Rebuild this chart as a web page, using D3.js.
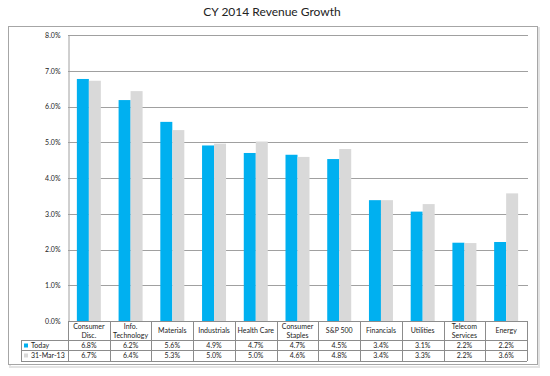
<!DOCTYPE html>
<html lang="en">
    <head>
        <meta charset="utf-8">
        <title>CY 2014 Revenue Growth</title>
        <script type="text/javascript" src="https://cdn.jsdelivr.net/npm/d3@7"></script>
        <style>
          body{margin:0;background:#fff;font-family:Lato,"Open Sans",sans-serif;}
          text{fill:#222;}
        </style>
    </head>
    <body>
      <div id="chart"></div>
        <script type="text/javascript">
          var categories = [["Consumer","Disc."],["Info.","Technology"],["Materials"],["Industrials"],["Health Care"],["Consumer","Staples"],["S&P 500"],["Financials"],["Utilities"],["Telecom","Services"],["Energy"]]
          var today = [0.0677,0.0618,0.0557,0.0491,0.0470,0.0465,0.0453,0.0338,0.0306,0.0219,0.0221]
          var march = [0.0672,0.0643,0.0534,0.0496,0.0502,0.0459,0.0481,0.0338,0.0327,0.0218,0.0357]
          var seriesNames = ["Today","31-Mar-13"]
          var colors = ["#00b0f0","#d9d9d9"]
          var yTicks = [0,0.01,0.02,0.03,0.04,0.05,0.06,0.07,0.08]

          var width = 550, height = 376
          var svg = d3.select("#chart").append("svg").attr("width",width).attr("height",height)

          svg.append("text").attr("x",272).attr("y",16).attr("text-anchor","middle")
            .attr("font-size",12).text("CY 2014 Revenue Growth")

          // outer frame with a soft shadow
          svg.append("rect").attr("x",10).attr("y",28).attr("width",529).attr("height",339)
            .attr("fill","none").attr("stroke","#e3e3e3").attr("stroke-width",2)
          svg.append("rect").attr("x",8.5).attr("y",26.5).attr("width",529).attr("height",338)
            .attr("fill","#fff").attr("stroke","#a6a6a6").attr("stroke-width",1)

          var plotLeft = 68, plotRight = 527, plotTop = 35, plotBottom = 321
          var x = d3.scaleBand().domain(d3.range(categories.length)).range([plotLeft,plotRight])
          var y = d3.scaleLinear().domain([0,0.08]).range([plotBottom,plotTop])

          // gridlines
          svg.append("g").selectAll("line").data(yTicks).enter().append("line")
            .attr("x1",plotLeft).attr("x2",plotRight+1)
            .attr("y1",function(d){return Math.round(y(d))+0.5})
            .attr("y2",function(d){return Math.round(y(d))+0.5})
            .attr("stroke","#a0a0a0")

          var yAxis = svg.append("g").attr("transform","translate("+(plotLeft+0.5)+",0)")
            .call(d3.axisLeft(y).tickValues(yTicks).tickFormat(d3.format(".1%")).tickSize(0).tickPadding(8))
          yAxis.select(".domain").attr("stroke","#a0a0a0")
          yAxis.selectAll("text").attr("font-size",7).attr("font-family","Lato,sans-serif").attr("fill","#333")

          var bw = 12
          var series = [today,march]
          series.forEach(function(vals,s){
            svg.append("g").selectAll("rect").data(vals).enter().append("rect")
              .attr("x",function(d,i){return x(i)+x.bandwidth()/2-bw+s*bw})
              .attr("y",function(d){return y(d)})
              .attr("width",bw)
              .attr("height",function(d){return plotBottom-y(d)})
              .attr("fill",colors[s])
          })

          // data table
          var rowTop = [321,340,350,361]
          var tableLeft = 21
          var grid = svg.append("g").attr("stroke","#8c8c8c").attr("stroke-width",1)
          rowTop.forEach(function(r,i){
            grid.append("line").attr("x1",i==0?plotLeft:tableLeft).attr("x2",plotRight)
              .attr("y1",r+0.5).attr("y2",r+0.5)
          })
          d3.range(categories.length+1).forEach(function(i){
            var xx = i<categories.length ? x(i) : plotRight
            grid.append("line").attr("x1",Math.round(xx)+0.5).attr("x2",Math.round(xx)+0.5)
              .attr("y1",321).attr("y2",361)
          })
          grid.append("line").attr("x1",tableLeft+0.5).attr("x2",tableLeft+0.5).attr("y1",340).attr("y2",361)

          var head = svg.append("g").attr("font-size",7).attr("text-anchor","middle")
          categories.forEach(function(c,i){
            var cx = x(i)+x.bandwidth()/2
            var t = head.append("text").attr("x",cx)
            if(c.length==1){
              t.attr("y",333).text(c[0])
            } else {
              t.append("tspan").attr("x",cx).attr("y",328.5).text(c[0])
              t.append("tspan").attr("x",cx).attr("y",337.5).text(c[1])
            }
          })

          var fmt = d3.format(".1%")
          series.forEach(function(vals,s){
            var ry = rowTop[s+1]
            svg.append("rect").attr("x",tableLeft+3).attr("y",ry+3.5).attr("width",4).attr("height",4).attr("fill",colors[s])
            svg.append("text").attr("x",tableLeft+10).attr("y",ry+8).attr("font-size",7).text(seriesNames[s])
            svg.append("g").selectAll("text").data(vals).enter().append("text")
              .attr("x",function(d,i){return x(i)+x.bandwidth()/2})
              .attr("y",ry+8).attr("text-anchor","middle").attr("font-size",7)
              .text(function(d){return fmt(d)})
          })
        </script>
    </body>
</html>
